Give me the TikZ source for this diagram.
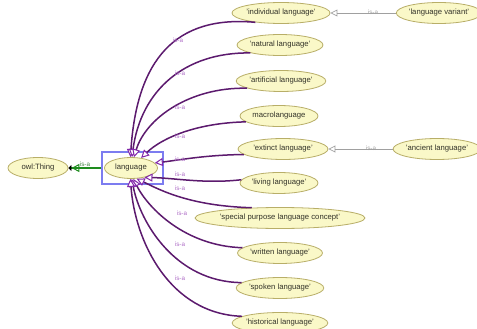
\documentclass[tikz,border=0pt]{standalone}
\usepackage{fontspec}
\setmainfont{Liberation Sans}
\usetikzlibrary{shapes.geometric,arrows.meta}
\definecolor{nfill}{RGB}{250,248,200}
\definecolor{ndraw}{RGB}{184,174,104}
\definecolor{ntext}{RGB}{50,50,40}
\definecolor{pline}{RGB}{92,26,110}
\definecolor{parrow}{RGB}{130,40,170}
\definecolor{plabel}{RGB}{176,112,200}
\definecolor{gline}{RGB}{30,140,30}
\definecolor{bbox}{RGB}{124,124,240}
\definecolor{grayline}{RGB}{160,160,160}
\begin{document}
\begin{tikzpicture}[x=1pt,y=-1pt,
  cls/.style={ellipse,draw=ndraw,fill=nfill,line width=0.8pt,minimum height=21pt,inner sep=0pt,font=\fontsize{7.7}{9}\selectfont,text=ntext},
  selbox/.style={rectangle,draw=bbox,line width=1.7pt,inner sep=0pt,fill=none},
  isa/.style={draw=pline,line width=1.5pt,-{Triangle[open,length=8pt,width=8pt,color=parrow,fill=white,line width=1pt]}},
  isalabel/.style={font=\fontsize{6.3}{7}\selectfont,text=plabel,inner sep=0pt},
  subedge/.style={draw=grayline,line width=0.7pt,-{Triangle[open,length=7pt,width=7pt]}},
  sublabel/.style={font=\fontsize{6.3}{7}\selectfont,text=grayline,inner sep=0pt},
  topedge/.style={draw=gline,line width=1.6pt,-{Triangle[open,length=8pt,width=8pt,line width=1pt] Triangle[black,length=3pt,width=6pt]}},
  toplabel/.style={font=\fontsize{6.3}{7}\selectfont,text=gline!60!gray,inner sep=0pt}
]
\useasboundingbox[fill=white] (0,0) rectangle (477,329);

% nodes
\node[cls,minimum width=60pt] (thing) at (38,168) {owl:Thing};
\node[cls,minimum width=53pt] (lang) at (131,168) {language};
\node[selbox,minimum width=61pt,minimum height=32pt] (langbox) at (132.5,168) {};
\node[cls,minimum width=98pt] (ind) at (281,13) {'individual language'};
\node[cls,minimum width=78pt] (var) at (439,13) {'language variant'};
\node[cls,minimum width=85pt] (nat) at (280,45) {'natural language'};
\node[cls,minimum width=87pt] (art) at (281,81) {'artificial language'};
\node[cls,minimum width=78pt] (mac) at (279,116) {macrolanguage};
\node[cls,minimum width=90pt] (ext) at (283,149) {'extinct language'};
\node[cls,minimum width=79pt] (anc) at (437,149) {'ancient language'};
\node[cls,minimum width=78pt] (liv) at (279,183) {'living language'};
\node[cls,minimum width=154pt] (spe) at (280,218) {'special purpose language concept'};
\node[cls,minimum width=85pt] (wri) at (280,253) {'written language'};
\node[cls,minimum width=85pt] (spo) at (280,288) {'spoken language'};
\node[cls,minimum width=94pt] (his) at (280,323) {'historical language'};

% top edge
\draw[topedge] (langbox.west) -- (thing.east);
\node[toplabel] (l0) at (85,164) {is-a};

% subclass edges on the right
\draw[subedge] (var.west) -- (ind.east);
\node[sublabel] (lv) at (373,12.5) {is-a};
\draw[subedge] (anc.west) -- (ext.east);
\node[sublabel] (la) at (371,148.5) {is-a};

% is-a edges to language
\draw[isa] (ind.200) .. controls (175,15) and (137,60) .. (lang.93);
\draw[isa] (nat.195) .. controls (185,52) and (141,90) .. (lang.85);
\draw[isa] (art.192) .. controls (190,87) and (146,118) .. (lang.75);
\draw[isa] (mac.190) .. controls (196,123) and (162,138) .. (lang.45);
\draw[isa] (ext.188) .. controls (205,155) and (180,160) .. (lang.12);
\draw[isa] (liv.175) .. controls (205,184) and (175,178) .. (lang.-35);
\draw[isa] (spe.160) .. controls (190,206) and (160,190) .. (lang.-62);
\draw[isa] (wri.172) .. controls (185,246) and (148,208) .. (lang.-78);
\draw[isa] (spo.172) .. controls (175,282) and (140,222) .. (lang.-86);
\draw[isa] (his.170) .. controls (170,314) and (135,242) .. (lang.-93);

% labels
\node[isalabel] (i1) at (178,40) {is-a};
\node[isalabel] (i2) at (180,73) {is-a};
\node[isalabel] (i3) at (180,107) {is-a};
\node[isalabel] (i4) at (180,136) {is-a};
\node[isalabel] (i5) at (180,159) {is-a};
\node[isalabel] (i6) at (180,174) {is-a};
\node[isalabel] (i7) at (180,188) {is-a};
\node[isalabel] (i8) at (182,213) {is-a};
\node[isalabel] (i9) at (180,244) {is-a};
\node[isalabel] (i10) at (180,278) {is-a};
\end{tikzpicture}
\end{document}
